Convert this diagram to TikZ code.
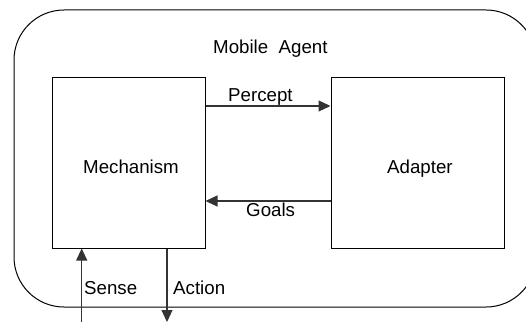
\documentclass[tikz,border=0pt]{standalone}
\usepackage{fontspec}
\setmainfont{Liberation Sans}
\usetikzlibrary{arrows.meta}
\begin{document}
\begin{tikzpicture}[x=1pt,y=-1pt,
  box/.style={draw=black, line width=1pt, inner sep=0pt},
  lbl/.style={inner sep=0pt, anchor=base west, font=\fontsize{18.7}{22}\selectfont},
  arr/.style={draw=black!80, line width=1.1pt, -{Triangle[length=12pt,width=11pt]}},
  outer/.style={draw=black, line width=1pt, rounded corners=50pt, inner sep=0pt}]
\useasboundingbox (0,0) rectangle (526,321);
\clip (0,0) rectangle (526,321);
% outer frame
\node[outer, minimum width=522pt, minimum height=297pt] (agent) at (275,158.5) {};
\node[lbl] (agentlbl) at (213,53) {Mobile\ \ Agent};
% boxes
\node[box, minimum width=153pt, minimum height=171pt] (mech) at (128.5,162.5) {};
\node[box, minimum width=173pt, minimum height=171pt] (adapt) at (417.5,162.5) {};
\node[lbl] (mechlbl) at (83,173) {Mechanism};
\node[lbl] (adaptlbl) at (387,173) {Adapter};
% percept / goals
\coordinate (py) at (0,106);
\coordinate (gy) at (0,201);
\draw[arr] (mech.east |- py) -- (adapt.west |- py);
\draw[arr] (adapt.west |- gy) -- (mech.east |- gy);
\node[lbl] (perceptlbl) at (228,101) {Percept};
\node[lbl] (goalslbl) at (246,216) {Goals};
% sense / action
\coordinate (sensebot) at (81.7,335);
\coordinate (actbot) at (167,322);
\draw[arr] (sensebot) -- (mech.south -| sensebot);
\draw[arr] (mech.south -| actbot) -- (actbot);
\node[lbl] (senselbl) at (84,294) {Sense};
\node[lbl] (actionlbl) at (173,294) {Action};
\end{tikzpicture}
\end{document}
